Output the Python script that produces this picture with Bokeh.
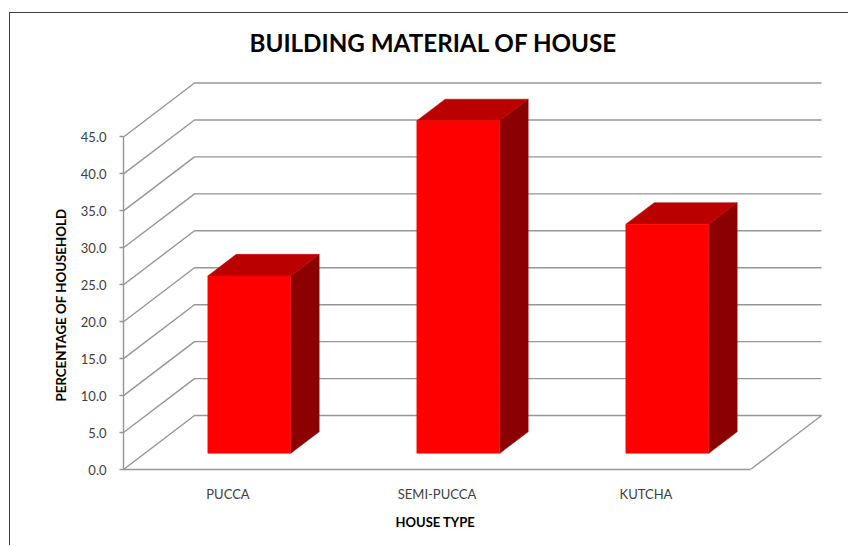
from bokeh.plotting import figure
from bokeh.models import (FixedTicker, NumeralTickFormatter, Range1d, Title)
from bokeh.embed import file_html
from bokeh.resources import INLINE

categories = ["PUCCA", "SEMI-PUCCA", "KUTCHA"]
values = [24.0, 45.0, 31.0]
y_ticks = [0, 5, 10, 15, 20, 25, 30, 35, 40, 45]

# pseudo-3D projection, in data units
DX, DY = 0.3397, 7.3
F_NEAR, F_FAR = 0.30, 0.70
BAR_W = 0.397

FONT = "Lato"
p = figure(width=839, height=533, output_backend="svg", toolbar_location=None,
           x_range=Range1d(0, 3.4737), y_range=Range1d(0, 54.26),
           min_border_left=113, min_border_right=0, min_border_top=55, min_border_bottom=77,
           outline_line_color=None, background_fill_color="white",
           styles={"margin-left": "9px", "margin-top": "12px",
                   "border-left": "1px solid #404040", "border-top": "1px solid #404040"})
p.xgrid.visible = False
p.ygrid.visible = False

p.title = Title(text="BUILDING MATERIAL OF HOUSE", align="left", offset=126, standoff=24,
                text_font=FONT, text_font_size="24.2px", text_font_style="bold", text_color="black")

GRID = "#969696"
n = len(categories)
gx, gy = [], []
for v in y_ticks:
    gx.append([0, DX, n + DX])
    gy.append([v, v + DY, v + DY])
gx.append([n, n + DX])
gy.append([0, DY])
p.multi_line(gx, gy, line_color=GRID, line_width=1.4)

front_x, front_y, top_x, top_y, side_x, side_y = [], [], [], [], [], []
for i, v in enumerate(values):
    l = i + 0.5 - BAR_W / 2 + F_NEAR * DX
    r = l + BAR_W
    b = F_NEAR * DY
    d = F_FAR - F_NEAR
    front_x.append([l, r, r, l])
    front_y.append([b, b, b + v, b + v])
    top_x.append([l, r, r + d * DX, l + d * DX])
    top_y.append([b + v, b + v, b + v + d * DY, b + v + d * DY])
    side_x.append([r, r + d * DX, r + d * DX, r])
    side_y.append([b, b + d * DY, b + v + d * DY, b + v])

p.patches(side_x, side_y, fill_color="#8B0000", line_color="#8B0000", line_width=0.5)
p.patches(top_x, top_y, fill_color="#BB0000", line_color="#BB0000", line_width=0.5)
p.patches(front_x, front_y, fill_color="#FF0000", line_color="#FF0000", line_width=0.5)

ya = p.yaxis[0]
ya.ticker = FixedTicker(ticks=y_ticks)
ya.formatter = NumeralTickFormatter(format="0.0")
ya.bounds = (0, max(y_ticks))
ya.axis_line_color = GRID
ya.axis_line_width = 1.4
ya.major_tick_line_color = GRID
ya.major_tick_line_width = 1.4
ya.major_tick_in = 0
ya.major_tick_out = 4
ya.minor_tick_line_color = None
ya.major_label_standoff = 13
ya.major_label_text_font = FONT
ya.major_label_text_font_size = "13px"
ya.major_label_text_color = "#404040"

xa = p.xaxis[0]
xa.ticker = FixedTicker(ticks=[i + 0.5 for i in range(n)])
xa.major_label_overrides = {i + 0.5: c for i, c in enumerate(categories)}
xa.bounds = (0, n)
xa.axis_line_color = GRID
xa.axis_line_width = 1.4
xa.major_tick_line_color = None
xa.minor_tick_line_color = None
xa.major_tick_in = 0
xa.major_tick_out = 0
xa.major_label_standoff = 16
xa.major_label_text_font = FONT
xa.major_label_text_font_size = "13px"
xa.major_label_text_color = "#404040"

# axis titles are centred on the front plane, not on the whole frame
p.add_layout(Title(text="HOUSE TYPE", align="left", offset=272, standoff=15,
                   text_font=FONT, text_font_size="13px", text_font_style="bold", text_color="black"), "below")
p.add_layout(Title(text="PERCENTAGE OF HOUSEHOLD", align="left", offset=68, standoff=17,
                   text_font=FONT, text_font_size="13.3px", text_font_style="bold", text_color="black"), "left")

open("out.html", "w").write(file_html(p, INLINE))
